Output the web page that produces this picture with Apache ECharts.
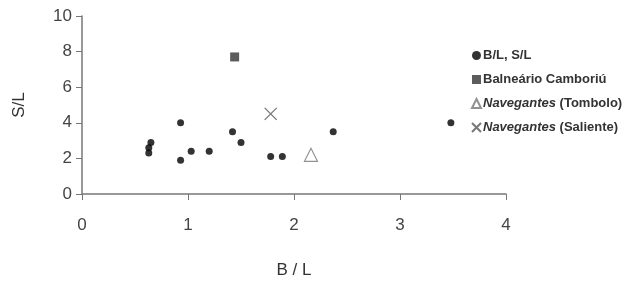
<!DOCTYPE html>
<html>
<head>
<meta charset="utf-8">
<script src="https://cdn.jsdelivr.net/npm/echarts@6/dist/echarts.min.js"></script>
<style>
html,body{margin:0;padding:0;background:#fff;}
#chart{width:639px;height:284px;}
</style>
</head>
<body>
<div id="chart"></div>
<script>
// data
var seriesNames = ['B/L, S/L', 'Balneário Camboriú', 'Navegantes (Tombolo)', 'Navegantes (Saliente)'];
var blsl = [[0.63, 2.3], [0.63, 2.6], [0.65, 2.9], [0.93, 4.0], [0.93, 1.9], [1.03, 2.4],
            [1.2, 2.4], [1.42, 3.5], [1.5, 2.9], [1.78, 2.1], [1.89, 2.1], [2.37, 3.5], [3.48, 4.0]];
var balneario = [[1.44, 7.7]];
var tombolo = [[2.16, 2.2]];
var saliente = [[1.78, 4.5]];
var xTicks = [0, 1, 2, 3, 4];
var yTicks = [0, 2, 4, 6, 8, 10];

var crossPath = 'path://M0,0L10,10M10,0L0,10Z';

var myChart = echarts.init(document.getElementById('chart'));
var axisColor = '#777';
var option = {
  animation: false,
  textStyle: {fontFamily: 'Arial, Liberation Sans, sans-serif'},
  grid: {left: 82, right: 133, top: 16, bottom: 89},
  xAxis: {
    type: 'value', min: xTicks[0], max: xTicks[xTicks.length - 1], interval: 1,
    name: 'B / L', nameLocation: 'middle', nameGap: 68,
    nameTextStyle: {fontSize: 17, color: '#333'},
    splitLine: {show: false},
    axisLine: {lineStyle: {color: axisColor, width: 1.5}},
    axisTick: {show: true, length: 6, lineStyle: {color: axisColor}},
    axisLabel: {fontSize: 17, color: '#444', margin: 23}
  },
  yAxis: {
    type: 'value', min: yTicks[0], max: yTicks[yTicks.length - 1], interval: 2,
    name: 'S/L', nameLocation: 'middle', nameGap: 54, nameRotate: 90,
    nameTextStyle: {fontSize: 17, color: '#333'},
    splitLine: {show: false},
    axisLine: {show: true, lineStyle: {color: axisColor, width: 1.5}},
    axisTick: {show: true, length: 6, lineStyle: {color: axisColor}},
    axisLabel: {fontSize: 17, color: '#444', margin: 10}
  },
  legend: {
    orient: 'vertical', left: 466, top: 44, itemGap: 11,
    itemWidth: 9, itemHeight: 9,
    textStyle: {fontSize: 13, color: '#333', fontWeight: 'bold', padding: [0, 0, 0, -3],
      rich: {i: {fontStyle: 'italic', fontSize: 13, color: '#333', fontWeight: 'bold'}}},
    formatter: function (n) {
      if (n.indexOf('Navegantes') === 0) return '{i|Navegantes}' + n.substring(10);
      return n;
    },
    data: seriesNames
  },
  series: [
    {name: seriesNames[0], type: 'scatter', data: blsl, symbol: 'circle', symbolSize: 7,
      itemStyle: {color: '#000'}},
    {name: seriesNames[1], type: 'scatter', data: balneario, symbol: 'rect', symbolSize: 9,
      itemStyle: {color: '#333'}},
    {name: seriesNames[2], type: 'scatter', data: tombolo, symbol: 'triangle', symbolSize: 13,
      itemStyle: {color: 'rgba(0,0,0,0)', borderColor: '#777', borderWidth: 1.2}},
    {name: seriesNames[3], type: 'scatter', data: saliente, symbol: crossPath, symbolSize: 12,
      itemStyle: {color: 'rgba(0,0,0,0)', borderColor: '#555', borderWidth: 1.3}}
  ]
};
myChart.setOption(option);
</script>
</body>
</html>
